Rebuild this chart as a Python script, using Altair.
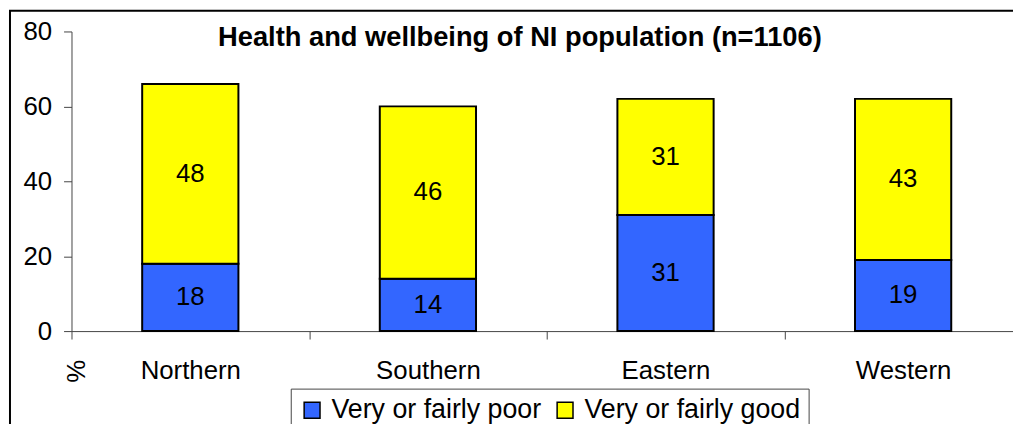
import altair as alt
import pandas as pd

regions = ["Northern", "Southern", "Eastern", "Western"]
poor = [18, 14, 31, 19]
good = [48, 46, 31, 43]
series = ["Very or fairly poor", "Very or fairly good"]
colors = ["#3366FF", "#FFFF00"]
y_ticks = [0, 20, 40, 60, 80]

rows = []
for r, p, g in zip(regions, poor, good):
    rows.append({"region": r, "series": series[0], "k": 0, "v": p})
    rows.append({"region": r, "series": series[1], "k": 1, "v": g})
df = pd.DataFrame(rows)

FONT = "Liberation Sans"

base = alt.Chart(df).transform_stack(
    stack="v", groupby=["region"], sort=[alt.SortField("k", order="ascending")], as_=["y0", "y1"]
).transform_calculate(mid="(datum.y0 + datum.y1) / 2")

x_enc = alt.X(
    "region:N",
    sort=regions,
    scale=alt.Scale(paddingInner=0, paddingOuter=0),
    axis=alt.Axis(
        title=None, labelAngle=0, tickBand="extent", tickSize=8, labelPadding=19,
        labelFontSize=26, labelFont=FONT, labelColor="black",
        domainColor="#444", tickColor="#444",
    ),
)
y_scale = alt.Scale(domain=[0, 80], nice=False)

bars = base.mark_bar(
    width=alt.RelativeBandSize(0.405), stroke="black", strokeWidth=2
).encode(
    x=x_enc,
    y=alt.Y(
        "y0:Q", scale=y_scale,
        axis=alt.Axis(
            values=y_ticks, grid=False, tickSize=8, labelPadding=12,
            labelFontSize=26, labelFont=FONT, labelColor="black",
            domainColor="#444", tickColor="#444",
            title="%", titleFont=FONT, titleFontSize=26, titleFontWeight="normal",
            titleAngle=270, titleX=5, titleY=342, titleAlign="center",
            titleBaseline="middle", titleColor="black",
        ),
    ),
    y2="y1:Q",
    color=alt.Color(
        "series:N",
        scale=alt.Scale(domain=series, range=colors),
        legend=alt.Legend(
            title=None, orient="none", legendX=221, legendY=360, direction="horizontal",
            columns=2, labelFontSize=27, labelFont=FONT, labelColor="black",
            symbolType="square", symbolSize=256, symbolStrokeColor="black",
            symbolStrokeWidth=1.5, symbolOpacity=1, labelOffset=6, columnPadding=10,
            padding=8, strokeColor="#444", fillColor="white", labelLimit=400,
        ),
    ),
    order=alt.Order("k:Q", sort="ascending"),
)

labels = base.mark_text(fontSize=26, font=FONT, color="black", baseline="middle").encode(
    x=alt.X("region:N", sort=regions),
    y=alt.Y("mid:Q", scale=y_scale),
    text=alt.Text("v:Q"),
)

frame = alt.Chart(pd.DataFrame({"f": [0]})).mark_rect(
    filled=False, stroke="black", strokeWidth=2
).encode(x=alt.value(-62), x2=alt.value(1200), y=alt.value(-21), y2=alt.value(600))

chart = alt.layer(frame, bars, labels).properties(
    width=958, height=302,
    autosize=alt.AutoSizeParams(type="none"),
    padding={"left": 64, "top": 22, "right": -9, "bottom": 92},
    title=alt.TitleParams(
        "Health and wellbeing of NI population (n=1106)",
        fontSize=27.5, fontWeight="bold", font=FONT, color="black",
        anchor="middle", frame="group", dx=-27, dy=42, offset=0,
    ),
    background="white",
).configure_view(stroke=None)

chart.save("out.html", embed_options={"renderer": "svg", "actions": False})
